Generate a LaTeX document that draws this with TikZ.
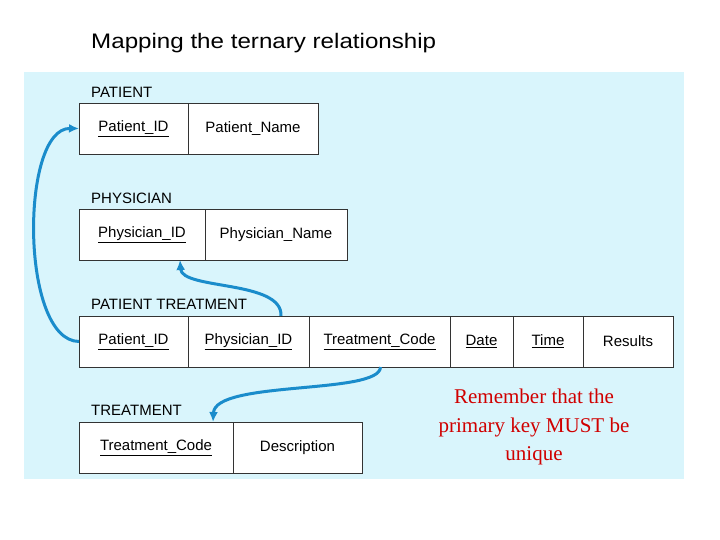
\documentclass[tikz,border=0pt]{standalone}
\usepackage{fontspec}
\setmainfont{Liberation Sans}
\newfontfamily\serifrm{Liberation Serif}
\usetikzlibrary{positioning,arrows.meta}
\definecolor{paleblue}{HTML}{D9F5FC}
\definecolor{linkblue}{HTML}{1A8CCB}
\definecolor{notered}{HTML}{D00000}
\tikzset{cell/.style={rectangle, draw=black!80, line width=0.8pt, fill=white, minimum height=51pt, inner sep=0pt, outer sep=0pt, font=\fontsize{15}{18}\selectfont},
tabname/.style={anchor=west, inner sep=0pt, font=\fontsize{15}{18}\selectfont},
link/.style={line width=3pt, draw=linkblue, -{Latex[length=10pt,width=9pt]}}}
\newcommand{\pk}[1]{\underline{#1}}
\begin{document}
\begin{tikzpicture}[x=1pt,y=-1pt]
\useasboundingbox (0,0) rectangle (720,540);
\fill[paleblue] (24,72) rectangle (684,479);

% Title
\node (title) [anchor=west, inner sep=0pt, font=\fontsize{21}{24}\selectfont, xscale=1.15] at (91,43) {Mapping the ternary relationship};

% PATIENT
\node (patlbl) [tabname] at (91,92) {PATIENT};
\node (patid) [cell, anchor=north west, minimum width=109] at (79,103) {\pk{Patient\_ID}};
\node (patname) [cell, right=0pt of patid, minimum width=130] {Patient\_Name};

% PHYSICIAN
\node (phylbl) [tabname] at (91,198) {PHYSICIAN};
\node (phyid) [cell, anchor=north west, minimum width=126] at (79,209) {\pk{Physician\_ID}};
\node (phyname) [cell, right=0pt of phyid, minimum width=142] {Physician\_Name};

% PATIENT TREATMENT
\node (ptlbl) [tabname] at (91,304) {PATIENT TREATMENT};
\node (ptpat) [cell, anchor=north west, minimum width=109] at (79,316) {\pk{Patient\_ID}};
\node (ptphy) [cell, right=0pt of ptpat, minimum width=121] {\pk{Physician\_ID}};
\node (pttre) [cell, right=0pt of ptphy, minimum width=141] {\pk{Treatment\_Code}};
\node (ptdate) [cell, right=0pt of pttre, minimum width=63] {\pk{Date}};
\node (pttime) [cell, right=0pt of ptdate, minimum width=70] {\pk{Time}};
\node (ptres) [cell, right=0pt of pttime, minimum width=90] {Results};

% TREATMENT
\node (trelbl) [tabname] at (91,410) {TREATMENT};
\node (treid) [cell, anchor=north west, minimum width=154] at (79,422) {\pk{Treatment\_Code}};
\node (tredesc) [cell, right=0pt of treid, minimum width=129] {Description};

% Note
\node (note) [align=center, text=notered, font=\serifrm\fontsize{21}{28.5}\selectfont] at (534,427) {Remember that the\\primary key MUST be\\unique};

% Foreign key links
\draw [link] (ptpat.west) .. controls (20,341) and (20,128) .. (patid.west);
\draw [link] ([xshift=-28pt]ptphy.north east) .. controls (283,280) and (182,290) .. ([xshift=38pt]phyid.south);
\draw [link] ([xshift=1pt]pttre.south) .. controls (380,395) and (215,380) .. ([xshift=-20pt]treid.north east);

\end{tikzpicture}
\end{document}
